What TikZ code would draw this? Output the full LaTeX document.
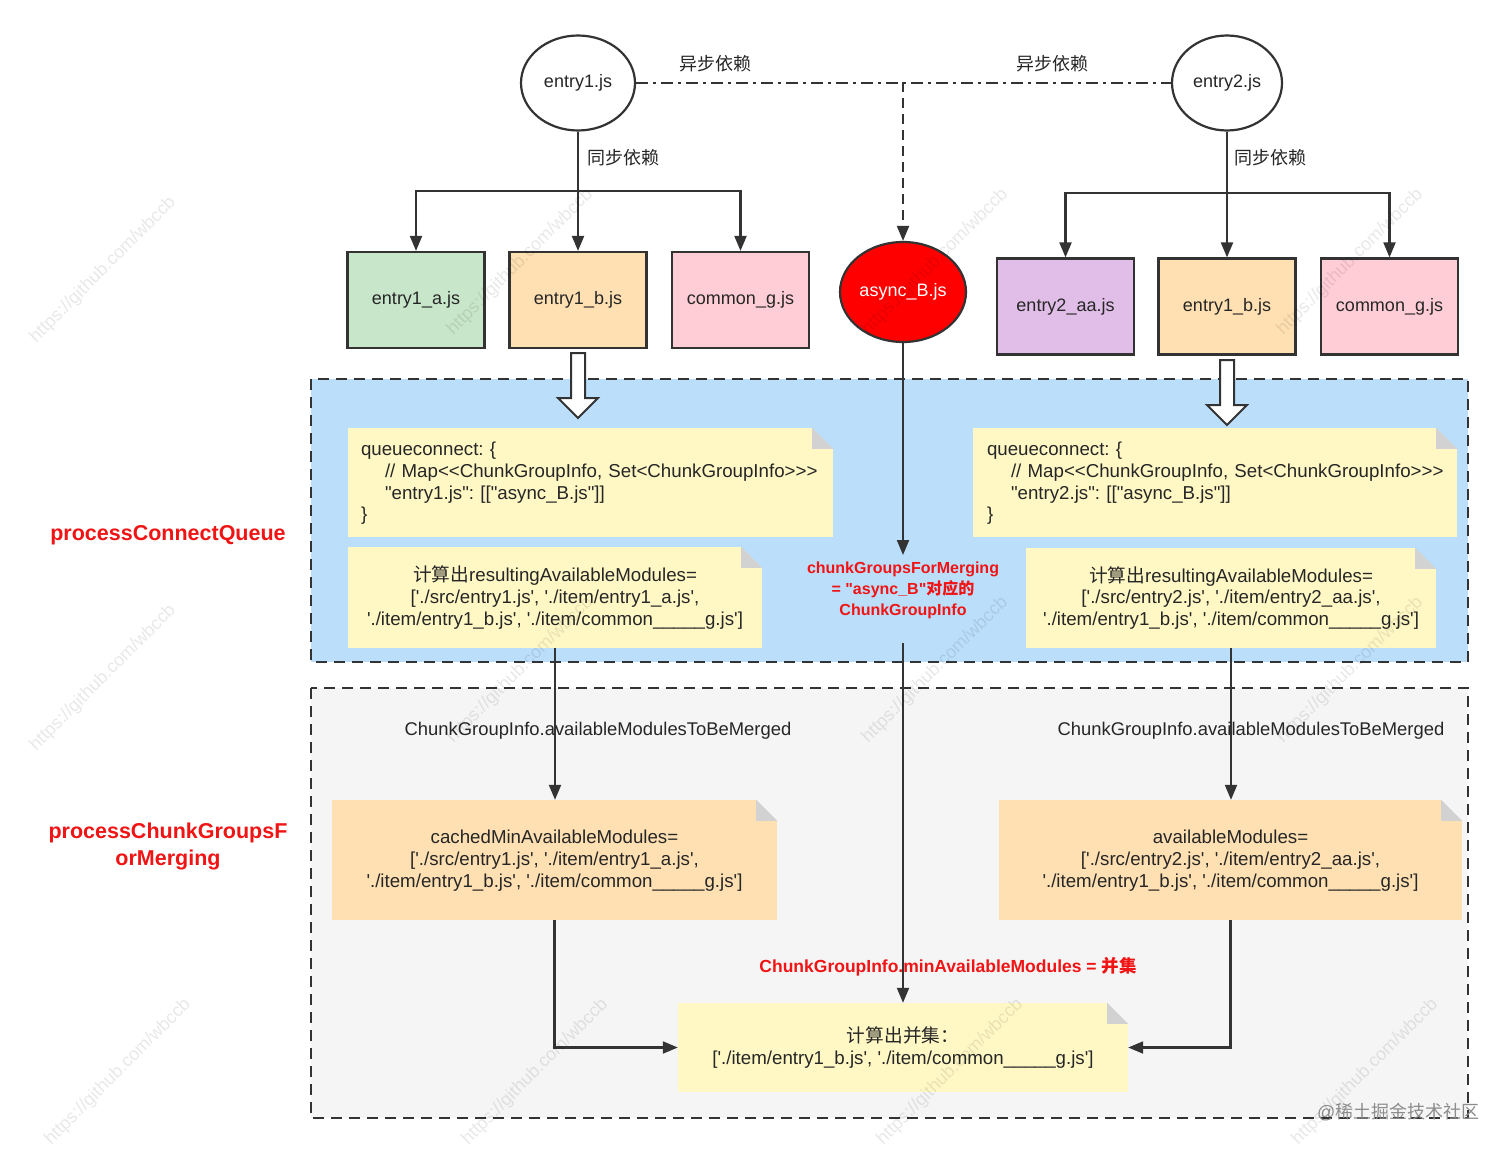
\documentclass[tikz,border=0pt]{standalone}
\usepackage{fontspec}
\setmainfont{Liberation Sans}
\setmonofont{Liberation Sans}
\newfontfamily\cjk{Noto Sans CJK SC}
\usetikzlibrary{arrows.meta,shapes.geometric,calc}
\definecolor{ln}{HTML}{333333}
\definecolor{cgreen}{HTML}{C8E6C9}
\definecolor{corange}{HTML}{FFE0B2}
\definecolor{cpink}{HTML}{FFCDD5}
\definecolor{cpurple}{HTML}{E1BEE7}
\definecolor{cblue}{HTML}{BBDEFB}
\definecolor{cgray}{HTML}{F5F5F5}
\definecolor{cyellow}{HTML}{FFF8C5}
\definecolor{foldgray}{HTML}{D2D2D2}
\definecolor{redtxt}{HTML}{F01414}
\newcommand\dogear[2]{%
  \fill[#2] (#1.north east) -- ([xshift=-21pt]#1.north east) -- ([yshift=-21pt]#1.north east) -- cycle;
  \fill[foldgray] ([xshift=-21pt]#1.north east) -- ([yshift=-21pt]#1.north east) -- ([xshift=-21pt,yshift=-21pt]#1.north east) -- cycle;}
\begin{document}
\begin{tikzpicture}[x=1pt,y=-1pt,
  txt/.style={font=\ttfamily\frenchspacing\fontsize{18}{21.5}\selectfont, text=black!85},
  ntxt/.style={font=\ttfamily\frenchspacing\fontsize{18.7}{21.7}\selectfont, text=black!85},
  boxnode/.style={draw=ln, line width=2.2pt, minimum width=137pt, minimum height=96pt, inner sep=0pt, txt},
  ellnode/.style={ellipse, draw=ln, line width=2.2pt, inner sep=0pt, txt},
  arr/.style={draw=ln, line width=2.1pt, -{Triangle[length=15pt,width=12pt]}},
  note/.style={fill=cyellow, inner sep=0pt, ntxt},
  region/.style={draw=ln, line width=2.2pt, dash pattern=on 11pt off 7pt},
  hollow/.style={draw=ln, line width=2pt, fill=white, line join=miter},
  redlbl/.style={font=\ttfamily\bfseries\frenchspacing\fontsize{16}{21}\selectfont, text=redtxt, align=center},
  bigred/.style={font=\ttfamily\bfseries\fontsize{21.5}{27}\selectfont, text=redtxt, align=center},
  wmark/.style={font=\ttfamily\fontsize{18}{20}\selectfont, text=black, text opacity=0.09, rotate=45}
]
\useasboundingbox (0,0) rectangle (1512,1153);
\fill[white] (0,0) rectangle (1512,1153);

% regions
\path[region, fill=cblue] (311,379) rectangle (1468,662);
\path[region, fill=cgray] (311,688) rectangle (1468,1118);

% top nodes
\node[ellnode, minimum width=114pt, minimum height=95pt] (e1) at (578,83) {entry1.js};
\node[ellnode, minimum width=110pt, minimum height=95pt] (e2) at (1227,83) {entry2.js};
\node[boxnode, fill=cgreen] (e1a) at (416,300) {entry1\_a.js};
\node[boxnode, fill=corange] (e1b) at (578,300) {entry1\_b.js};
\node[boxnode, fill=cpink] (c1) at (740.5,300) {common\_g.js};
\node[ellnode, fill=red, text=white, minimum width=126pt, minimum height=100pt] (ab) at (903,292) {async\_B.js};
\node[boxnode, fill=cpurple] (e2aa) at (1065.5,306.5) {entry2\_aa.js};
\node[boxnode, fill=corange] (e1b2) at (1227,306.5) {entry1\_b.js};
\node[boxnode, fill=cpink] (c2) at (1389.5,306.5) {common\_g.js};

% sync edges
\coordinate (j1) at (578,191);
\draw[arr] (e1.south) -- (e1b.north);
\draw[arr] (j1) -| (e1a.north);
\draw[arr] (j1) -| (c1.north);
\node[txt, anchor=west] (s1) at (584,158) {\cjk 同步依赖};
\coordinate (j2) at (1227,193);
\draw[arr] (e2.south) -- (e1b2.north);
\draw[arr] (j2) -| (e2aa.north);
\draw[arr] (j2) -| (c2.north);
\node[txt, anchor=west] (s2) at (1231,158) {\cjk 同步依赖};

% async edges
\draw[draw=ln, line width=2.3pt, dash pattern=on 12pt off 5pt on 3pt off 5pt] (e1.east) -- (e2.west);
\coordinate (j3) at (903,82);
\draw[arr, dash pattern=on 10pt off 6pt] (j3) -- (ab.north);
\node[txt] (a1) at (715,64) {\cjk 异步依赖};
\node[txt] (a2) at (1052,64) {\cjk 异步依赖};

% hollow arrows
\draw[hollow] (571,353) -- (571,398) -- (558,398) -- (578,418) -- (598,398) -- (585,398) -- (585,353) -- cycle;
\draw[hollow] (1220,360) -- (1220,405) -- (1207,405) -- (1227,425) -- (1247,405) -- (1234,405) -- (1234,360) -- cycle;

% notes in blue region
\node[note, minimum width=485pt, minimum height=109pt, text width=459pt, align=left] (n1) at (590.5,482.5)
  {\strut queueconnect: \{\\\hspace*{24pt}// Map<<ChunkGroupInfo, Set<ChunkGroupInfo>>>\\\hspace*{24pt}"entry1.js": [["async\_B.js"]]\\\}};
\dogear{n1}{cblue}
\node[note, minimum width=414pt, minimum height=101pt, align=center] (n2) at (555,597.5)
  {\strut{\cjk 计算出}resultingAvailableModules=\\{[}'./src/entry1.js', './item/entry1\_a.js',\\{'./item/entry1\_b.js', './item/common\_\_\_\_\_g.js']}};
\dogear{n2}{cblue}
\node[note, minimum width=484pt, minimum height=109pt, text width=474pt, align=left] (n3) at (1215,482.5)
  {\strut\hspace*{9pt}queueconnect: \{\\\hspace*{33pt}// Map<<ChunkGroupInfo, Set<ChunkGroupInfo>>>\\\hspace*{33pt}"entry2.js": [["async\_B.js"]]\\\hspace*{9pt}\}};
\dogear{n3}{cblue}
\node[note, minimum width=410pt, minimum height=100pt, align=center] (n4) at (1231,598)
  {\strut{\cjk 计算出}resultingAvailableModules=\\{[}'./src/entry2.js', './item/entry2\_aa.js',\\{'./item/entry1\_b.js', './item/common\_\_\_\_\_g.js']}};
\dogear{n4}{cblue}

% notes in gray region
\node[note, fill=corange, minimum width=445pt, minimum height=120pt, align=center] (n5) at (554.5,860)
  {\strut cachedMinAvailableModules=\\{[}'./src/entry1.js', './item/entry1\_a.js',\\{'./item/entry1\_b.js', './item/common\_\_\_\_\_g.js']}};
\dogear{n5}{cgray}
\node[note, fill=corange, minimum width=463pt, minimum height=120pt, align=center] (n6) at (1230.5,860)
  {\strut availableModules=\\{[}'./src/entry2.js', './item/entry2\_aa.js',\\{'./item/entry1\_b.js', './item/common\_\_\_\_\_g.js']}};
\dogear{n6}{cgray}
\node[note, minimum width=450pt, minimum height=89pt, align=center] (n7) at (903,1047.5)
  {\strut{\cjk 计算出并集：}\\{[}'./item/entry1\_b.js', './item/common\_\_\_\_\_g.js']};
\dogear{n7}{cgray}

% async_B path
\node[redlbl] (cgm) at (903,590) {chunkGroupsForMerging\\= "async\_B"{\cjk\bfseries 对应的}\\ChunkGroupInfo};
\coordinate (cgmTop) at (903,555);
\coordinate (cgmBot) at (903,643);
\draw[arr] (ab.south) -- (cgmTop);
\draw[arr] (cgmBot) -- (n7.north);

% flows
\draw[arr] (n2.south) -- (n2.south |- n5.north);
\node[txt, font=\ttfamily\frenchspacing\fontsize{18.4}{21.5}\selectfont] (l1) at (598,731) {ChunkGroupInfo.availableModulesToBeMerged};
\draw[arr] (n4.south) -- (n4.south |- n6.north);
\node[txt, font=\ttfamily\frenchspacing\fontsize{18.4}{21.5}\selectfont] (l2) at (1251,731) {ChunkGroupInfo.availableModulesToBeMerged};
\draw[arr] (n5.south) |- (n7.west);
\draw[arr] (n6.south) |- (n7.east);
\node[redlbl, font=\ttfamily\bfseries\frenchspacing\fontsize{17.5}{21}\selectfont] (ml) at (948,967) {ChunkGroupInfo.minAvailableModules = {\cjk\bfseries 并集}};

% side labels
\node[bigred] (pcq) at (168,535) {processConnectQueue};
\node[bigred] (pcg) at (168,846) {processChunkGroupsF\\orMerging};

\node[txt, text=black!45, anchor=east] (wm) at (1483,1112) {@{\cjk 稀土掘金技术社区}};

% faint tiled watermarks
\foreach \wx/\wy [count=\i] in {103/270,520/262,935/262,1350/262,103/678,520/670,935/670,1350/670,118/1072,535/1072,950/1072,1365/1072}
  \node[wmark] (wmk\i) at (\wx,\wy) {https://github.com/wbccb};
\end{tikzpicture}
\end{document}
